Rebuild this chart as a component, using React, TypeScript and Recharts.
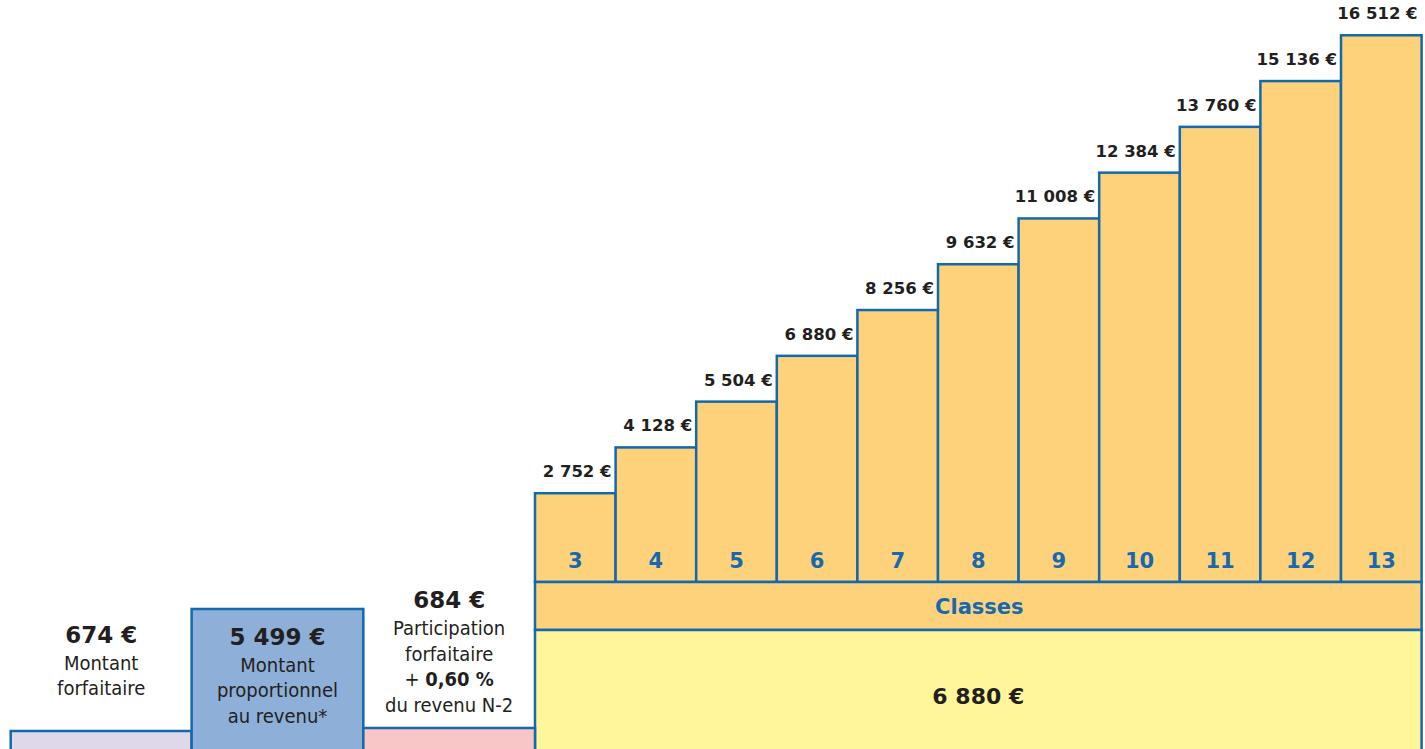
import React from 'react';
import { ComposedChart, XAxis, YAxis, ReferenceArea } from 'recharts';

// ---------- data ----------
const classLabels = ['3', '4', '5', '6', '7', '8', '9', '10', '11', '12', '13'];
const classAmounts = [2752, 4128, 5504, 6880, 8256, 9632, 11008, 12384, 13760, 15136, 16512];
const baseAmount = 6880;
const bandTitle = 'Classes';
const sideAmounts = [674, 5499, 684];
const sideCaptions: string[][] = [
  ['Montant', 'forfaitaire'],
  ['Montant', 'proportionnel', 'au revenu*'],
  ['Participation', 'forfaitaire', '+ **0,60 %**', 'du revenu N-2'],
];

// ---------- layout / style ----------
const W = 1425;
const H = 749;
const X_DOMAIN: [number, number] = [-6.6377, 11.0422]; // unit = one class column, 0 = left edge of class 3
const Y_DOMAIN: [number, number] = [-4934, 17572];
const BAND_TOP = 84;
const BAND_BOTTOM = -1358;
const FLOOR = -9000;
const SIDE_WIDTHS = [2.245, 2.13, 2.13];
const SIDE_TOPS = [-4393, -727, -4303];
const SIDE_FILLS = ['#DFD8EA', '#8EAFD7', '#F8C6C7'];
const SIDE_TEXT_DY = [-88, 36, -120];

const STROKE = '#1468AC';
const SW = 2.5;
const STEP_FILL = '#FDD27B';
const BASE_FILL = '#FFF59B';
const DARK = '#231F20';
const BLUE_TEXT = '#1769AF';
const BOLD_FONT = "'DejaVu Sans', Verdana, sans-serif";
const REG_FONT = "'DejaVu Sans Condensed', 'DejaVu Sans', sans-serif";

const fmt = (n: number) => String(n).replace(/\B(?=(\d{3})+(?!\d))/g, ' ') + ' €';

const makeStepShape = (i: number) => (p: any) => {
  const { x, y, width, height } = p;
  return (
    <g>
      <rect x={x} y={y} width={width} height={height} fill={STEP_FILL} stroke={STROKE} strokeWidth={SW} />
      <text x={x + width - 4} y={y - 16} textAnchor="end" fontFamily={BOLD_FONT} fontWeight="bold" fontSize={16.5} fill={DARK}>
        {fmt(classAmounts[i])}
      </text>
      <text x={x + width / 2} y={y + height - 14} textAnchor="middle" fontFamily={BOLD_FONT} fontWeight="bold" fontSize={21} fill={BLUE_TEXT}>
        {classLabels[i]}
      </text>
    </g>
  );
};

const bandShape = (p: any) => {
  const { x, y, width, height } = p;
  return (
    <g>
      <rect x={x} y={y} width={width} height={height} fill={STEP_FILL} stroke={STROKE} strokeWidth={SW} />
      <text x={x + width / 2 + 1} y={y + height / 2 + 8} textAnchor="middle" fontFamily={BOLD_FONT} fontWeight="bold" fontSize={21} fill={BLUE_TEXT}>
        {bandTitle}
      </text>
    </g>
  );
};

const baseShape = (p: any) => {
  const { x, y, width, height } = p;
  return (
    <g>
      <rect x={x} y={y} width={width} height={height} fill={BASE_FILL} stroke={STROKE} strokeWidth={SW} />
      <text x={x + width / 2} y={y + 74} textAnchor="middle" fontFamily={BOLD_FONT} fontWeight="bold" fontSize={22} fill={DARK}>
        {fmt(baseAmount)}
      </text>
    </g>
  );
};

const renderCaption = (line: string) =>
  line.split('**').map((seg, k) => (
    <tspan key={k} fontWeight={k % 2 === 1 ? 'bold' : 'normal'}>
      {seg}
    </tspan>
  ));

const makeSideShape = (i: number) => (p: any) => {
  const { x, y, width, height } = p;
  const cx = x + width / 2;
  const y0 = y + SIDE_TEXT_DY[i];
  return (
    <g>
      <rect x={x} y={y} width={width} height={height} fill={SIDE_FILLS[i]} stroke={STROKE} strokeWidth={SW} />
      <text x={cx} y={y0} textAnchor="middle" fontFamily={BOLD_FONT} fontWeight="bold" fontSize={23} fill={DARK}>
        {fmt(sideAmounts[i])}
      </text>
      {sideCaptions[i].map((line, j) => (
        <text key={j} x={cx} y={y0 + 27 + j * 25.5} textAnchor="middle" fontFamily={REG_FONT} fontSize={20} fill={DARK}>
          {renderCaption(line)}
        </text>
      ))}
    </g>
  );
};

const sideStarts = SIDE_WIDTHS.map((_, i) => -SIDE_WIDTHS.slice(i).reduce((a, b) => a + b, 0));

export default function App() {
  const data = classAmounts.map((v, i) => ({ x: i + 0.5, v }));
  return (
    <div style={{ position: 'absolute', left: 0, top: 0, width: W, height: H, background: '#fff' }}>
      <ComposedChart width={W} height={H} data={data} margin={{ top: 0, right: 0, bottom: 0, left: 0 }}>
        <XAxis type="number" dataKey="x" domain={X_DOMAIN} allowDataOverflow hide />
        <YAxis type="number" domain={Y_DOMAIN} allowDataOverflow hide />
        {classAmounts.map((v, i) => (
          <ReferenceArea
            key={'s' + i}
            x1={i}
            x2={i + 1}
            y1={BAND_TOP}
            y2={v}
            ifOverflow="visible"
            shape={makeStepShape(i)}
          />
        ))}
        <ReferenceArea x1={0} x2={classAmounts.length} y1={BAND_BOTTOM} y2={BAND_TOP} ifOverflow="visible" shape={bandShape} />
        <ReferenceArea x1={0} x2={classAmounts.length} y1={FLOOR} y2={BAND_BOTTOM} ifOverflow="hidden" shape={baseShape} />
        {sideAmounts.map((_, i) => (
          <ReferenceArea
            key={'l' + i}
            x1={sideStarts[i]}
            x2={sideStarts[i] + SIDE_WIDTHS[i]}
            y1={FLOOR}
            y2={SIDE_TOPS[i]}
            ifOverflow="hidden"
            shape={makeSideShape(i)}
          />
        ))}
      </ComposedChart>
    </div>
  );
}
